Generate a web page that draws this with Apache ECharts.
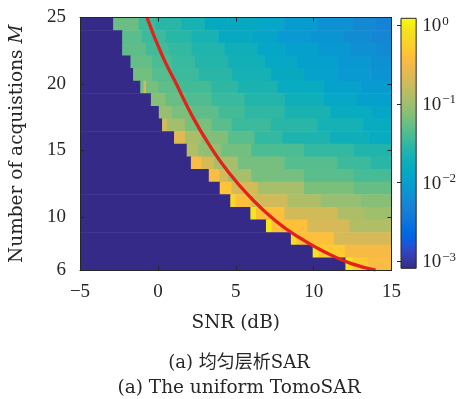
<!DOCTYPE html>
<html><head><meta charset="utf-8">
<script src="https://cdn.jsdelivr.net/npm/echarts@6/dist/echarts.min.js"></script>
<style>html,body{margin:0;padding:0;background:#fff}#chart{width:459px;height:399px}</style>
</head><body><div id="chart"></div>
<script>
// ---------------- data ----------------
const snrTicks = [-5, 0, 5, 10, 15];
const mTicks = [6, 10, 15, 20, 25];
const cbarTicks = [-3, -2, -1, 0];          // log10 of colour-bar tick values
const cbarRange = [-3.09, 0.09];            // log10 limits of the colour scale
const mLevels = [25,24,23,22,21,20,19,18,17,16,15,14,13,12,11,10,9,8,7,6];
// SNR where the dark-blue (<=1e-3) region ends, per row
const blueEdge = [-2.87,-2.29,-2.29,-1.76,-1.59,-1.13,-0.45,0.06,0.27,1.04,1.85,2.12,3.27,3.97,4.65,5.94,6.94,8.54,9.94,12.04];
const blueLog = -3.1;
// per row: SNR where each coloured block starts, and log10 of the value in it
const segStart = [
  [-2.87,-1.23,-0.17,1.53,3.01,6.41,8.11,10.24,12.57,14.06],
  [-2.29,-1.02,0.47,2.17,3.87,5.99,7.69,9.81,11.93,13.63],
  [-2.29,-0.81,0.68,2.17,4.29,6.41,8.11,10.24,12.36,14.06],
  [-1.76,-0.38,0.89,2.38,4.5,6.83,8.96,11.51,13.63],
  [-1.59,-0.38,0.89,2.59,4.71,7.26,9.38,11.51,13.63],
  [-1.13,-0.92,-0.76,0.04,1.32,3.44,5.14,7.69,10.66,12.99],
  [-0.45,0.47,1.74,3.44,5.56,8.11,10.66,12.78],
  [0.06,0.89,2.17,3.87,5.56,8.11,11.08,13.63],
  [0.27,0.58,1.74,3.44,4.71,7.26,10.24,13.2],
  [1.04,1.74,2.8,4.5,6.2,8.0,11.0,13.5],
  [1.85,2.59,4.08,5.99,9.38,12.57],
  [2.12,2.8,3.6,5.14,8.11,11.51,13.63],
  [3.27,3.95,4.5,5.99,9.38,12.57],
  [3.97,4.71,6.41,9.38,12.57],
  [4.65,5.0,6.0,8.32,10.45,12.99],
  [5.94,6.3,8.11,11.51,13.2],
  [6.94,7.3,9.6,12.3],
  [8.54,8.9,11.3],
  [9.94,10.3,12.0],
  [12.04,12.5,13.5]
];
const segLog = [
  [-1.25,-1.45,-1.56,-1.66,-1.82,-1.9,-2.04,-2.15,-2.25,-2.32],
  [-1.32,-1.45,-1.56,-1.66,-1.82,-1.91,-2.06,-2.12,-2.2,-2.27],
  [-1.3,-1.42,-1.5,-1.6,-1.72,-1.88,-1.98,-2.08,-2.16,-2.22],
  [-1.28,-1.38,-1.47,-1.58,-1.7,-1.86,-1.98,-2.08,-2.15],
  [-1.22,-1.34,-1.45,-1.55,-1.68,-1.82,-1.96,-2.05,-2.12],
  [-1.22,-0.7,-1.2,-1.3,-1.42,-1.52,-1.64,-1.8,-1.95,-2.04],
  [-1.12,-1.26,-1.36,-1.47,-1.58,-1.72,-1.86,-1.98],
  [-1.05,-1.18,-1.3,-1.42,-1.52,-1.65,-1.8,-1.9],
  [-0.7,-0.98,-1.18,-1.32,-1.45,-1.55,-1.68,-1.8],
  [-0.62,-0.95,-1.15,-1.32,-1.5,-1.62,-1.72,-1.8],
  [-0.9,-1.07,-1.22,-1.38,-1.5,-1.6],
  [-0.45,-0.7,-0.96,-1.2,-1.34,-1.45,-1.55],
  [-0.45,-0.72,-0.96,-1.2,-1.32,-1.4],
  [-0.35,-0.7,-0.96,-1.18,-1.27],
  [-0.15,-0.42,-0.72,-0.92,-1.05,-1.12],
  [-0.05,-0.4,-0.72,-0.92,-1.0],
  [-0.05,-0.4,-0.68,-0.9],
  [-0.12,-0.4,-0.68],
  [-0.05,-0.3,-0.47],
  [-0.05,-0.3,-0.45]
];
// red threshold curve (M, SNR)
const curveM   = [25, 22.19, 20.18, 17.67, 15.54, 13.4, 11.4, 9.77, 8.51, 7.38, 6.5, 6.0];
const curveSNR = [-0.70, 0.26, 1.11, 2.17, 3.23, 4.51, 6.0, 7.49, 8.98, 10.68, 12.38, 13.98];

// ---------------- colormap (parula) ----------------
const parulaRGB = [
[0.2081,0.1663,0.5292],[0.2116,0.1898,0.5777],[0.2123,0.2138,0.6270],[0.2081,0.2386,0.6771],
[0.1959,0.2645,0.7279],[0.1707,0.2919,0.7792],[0.1253,0.3242,0.8303],[0.0591,0.3598,0.8683],
[0.0117,0.3875,0.8820],[0.0060,0.4086,0.8828],[0.0165,0.4266,0.8786],[0.0329,0.4430,0.8720],
[0.0498,0.4586,0.8641],[0.0629,0.4737,0.8554],[0.0723,0.4887,0.8467],[0.0779,0.5040,0.8384],
[0.0793,0.5200,0.8312],[0.0749,0.5375,0.8263],[0.0641,0.5570,0.8240],[0.0488,0.5772,0.8228],
[0.0343,0.5966,0.8199],[0.0265,0.6137,0.8135],[0.0239,0.6287,0.8038],[0.0231,0.6418,0.7913],
[0.0228,0.6535,0.7768],[0.0267,0.6642,0.7607],[0.0384,0.6743,0.7436],[0.0590,0.6838,0.7254],
[0.0843,0.6928,0.7062],[0.1133,0.7015,0.6859],[0.1453,0.7098,0.6646],[0.1801,0.7177,0.6424],
[0.2178,0.7250,0.6193],[0.2586,0.7317,0.5954],[0.3022,0.7376,0.5712],[0.3482,0.7424,0.5473],
[0.3953,0.7459,0.5244],[0.4420,0.7481,0.5033],[0.4871,0.7491,0.4840],[0.5300,0.7491,0.4661],
[0.5709,0.7485,0.4494],[0.6099,0.7473,0.4337],[0.6473,0.7456,0.4188],[0.6834,0.7435,0.4044],
[0.7184,0.7411,0.3905],[0.7525,0.7384,0.3768],[0.7858,0.7356,0.3633],[0.8185,0.7327,0.3498],
[0.8507,0.7299,0.3360],[0.8824,0.7274,0.3217],[0.9139,0.7258,0.3063],[0.9450,0.7261,0.2886],
[0.9739,0.7314,0.2666],[0.9938,0.7455,0.2403],[0.9990,0.7653,0.2164],[0.9955,0.7861,0.1967],
[0.9880,0.8066,0.1794],[0.9789,0.8271,0.1633],[0.9697,0.8481,0.1475],[0.9626,0.8705,0.1309],
[0.9589,0.8949,0.1132],[0.9598,0.9218,0.0948],[0.9661,0.9514,0.0755],[0.9763,0.9831,0.0538]];
const parula = parulaRGB.map(c => 'rgb(' + c.map(v => Math.round(v * 255)).join(',') + ')');
function colorOf(lg) {
  let t = (lg - cbarRange[0]) / (cbarRange[1] - cbarRange[0]);
  t = Math.max(0, Math.min(1, t));
  return echarts.color.lerp(t, parula);
}

// ---------------- build cells ----------------
const rowH = (mTicks[mTicks.length - 1] - mTicks[0]) / mLevels.length;
const cells = [];
mLevels.forEach((m, r) => {
  const yTop = 25 - r * rowH, yBot = 25 - (r + 1) * rowH;
  cells.push([snrTicks[0], blueEdge[r], yTop, yBot, blueLog]);
  segStart[r].forEach((s, k) => {
    const e = k + 1 < segStart[r].length ? segStart[r][k + 1] : snrTicks[snrTicks.length - 1];
    cells.push([s, e, yTop, yBot, segLog[r][k]]);
  });
});

const INK = '#262626';
const FNUM = 'Liberation Serif';
const FTXT = 'DejaVu Serif';
const minus = v => String(v).replace('-', '\u2212');
const lineStyle = {color: INK, width: 1};
const tick = {show: true, inside: true, length: 4, lineStyle: {color: INK, width: 1}};

const chart = echarts.init(document.getElementById('chart'), null, {renderer: 'canvas'});
chart.setOption({
  animation: false,
  backgroundColor: '#fff',
  title: [
    {text: '(a) 均匀层析SAR', left: 234, top: 349, textAlign: 'center',
     textStyle: {fontFamily: FTXT + ', Noto Sans CJK SC', fontSize: 18, fontWeight: 'normal', color: INK}},
    {text: '(a) The uniform TomoSAR', left: 234, top: 374, textAlign: 'center',
     textStyle: {fontFamily: FTXT, fontSize: 18.5, fontWeight: 'normal', color: INK}}
  ],
  grid: [
    {left: 77.5, top: 17.5, width: 314, height: 252.5},
    {left: 401, top: 18.3, width: 16.5, height: 250}
  ],
  xAxis: [
    {gridIndex: 0, type: 'value', min: -5, max: 15, interval: 5, position: 'bottom', z: 10,
     axisLine: {show: true, onZero: false, lineStyle}, axisTick: tick, splitLine: {show: false},
     axisLabel: {margin: 13, fontFamily: FNUM, fontSize: 19, color: INK, formatter: minus},
     name: 'SNR (dB)', nameLocation: 'middle', nameGap: 44,
     nameTextStyle: {fontFamily: FTXT, fontSize: 18.5, color: INK}},
    {gridIndex: 0, type: 'value', min: -5, max: 15, interval: 5, position: 'top', z: 10,
     axisLine: {show: true, onZero: false, lineStyle}, axisTick: tick, splitLine: {show: false},
     axisLabel: {show: false}},
    {gridIndex: 1, type: 'value', min: 0, max: 1, show: false}
  ],
  yAxis: [
    {gridIndex: 0, type: 'value', min: 6, max: 25, position: 'left', z: 10,
     axisLine: {show: true, onZero: false, lineStyle},
     axisTick: Object.assign({customValues: mTicks}, tick), splitLine: {show: false},
     axisLabel: {customValues: mTicks, margin: 14, fontFamily: FNUM, fontSize: 19, color: INK},
     name: '{n|Number of acquistions }{i|M}', nameLocation: 'middle', nameGap: 53, nameRotate: 90,
     nameTextStyle: {color: INK, rich: {
       n: {fontFamily: FTXT, fontSize: 18.5, color: INK},
       i: {fontFamily: FTXT, fontSize: 18.5, fontStyle: 'italic', color: INK}}}},
    {gridIndex: 0, type: 'value', min: 6, max: 25, position: 'right', z: 10,
     axisLine: {show: true, onZero: false, lineStyle},
     axisTick: Object.assign({customValues: mTicks}, tick), splitLine: {show: false},
     axisLabel: {show: false}},
    {gridIndex: 1, type: 'value', min: cbarRange[0], max: cbarRange[1], position: 'right', z: 10,
     axisLine: {show: false}, splitLine: {show: false},
     axisTick: Object.assign({customValues: cbarTicks}, tick),
     axisLabel: {customValues: cbarTicks, margin: 6,
       formatter: v => '{b|10}{s|' + minus(Math.round(v)) + '}',
       rich: {b: {fontFamily: FNUM, fontSize: 19, color: INK, verticalAlign: 'bottom'},
              s: {fontFamily: FNUM, fontSize: 13, color: INK, verticalAlign: 'bottom', padding: [0, 0, 8, 1]}}}}
  ],
  series: [
    {type: 'custom', xAxisIndex: 0, yAxisIndex: 0, z: 1, silent: true, clip: true,
     data: cells, encode: {x: [0, 1], y: [2, 3]},
     renderItem: (params, api) => {
       const a = api.coord([api.value(0), api.value(2)]);
       const b = api.coord([api.value(1), api.value(3)]);
       return {type: 'rect', shape: {x: a[0], y: a[1], width: b[0] - a[0] + 0.6, height: b[1] - a[1] + 0.6},
               style: {fill: colorOf(api.value(4))}};
     }},
    {type: 'line', xAxisIndex: 0, yAxisIndex: 0, z: 5, silent: true, clip: true,
     data: curveSNR.map((s, i) => [s, curveM[i]]), smooth: 0.5, symbol: 'none',
     lineStyle: {color: '#e3221c', width: 3.3}},
    {type: 'custom', xAxisIndex: 2, yAxisIndex: 2, z: 1, silent: true,
     data: [[0, 1, cbarRange[0], cbarRange[1]]], encode: {x: [0, 1], y: [2, 3]},
     renderItem: (params, api) => {
       const a = api.coord([api.value(0), api.value(3)]);
       const b = api.coord([api.value(1), api.value(2)]);
       return {type: 'rect', shape: {x: a[0], y: a[1], width: b[0] - a[0], height: b[1] - a[1]},
               style: {fill: new echarts.graphic.LinearGradient(0, 1, 0, 0,
                         parula.map((c, i) => ({offset: i / (parula.length - 1), color: c}))),
                       stroke: INK, lineWidth: 1}};
     }}
  ]
});
</script>
</body></html>
